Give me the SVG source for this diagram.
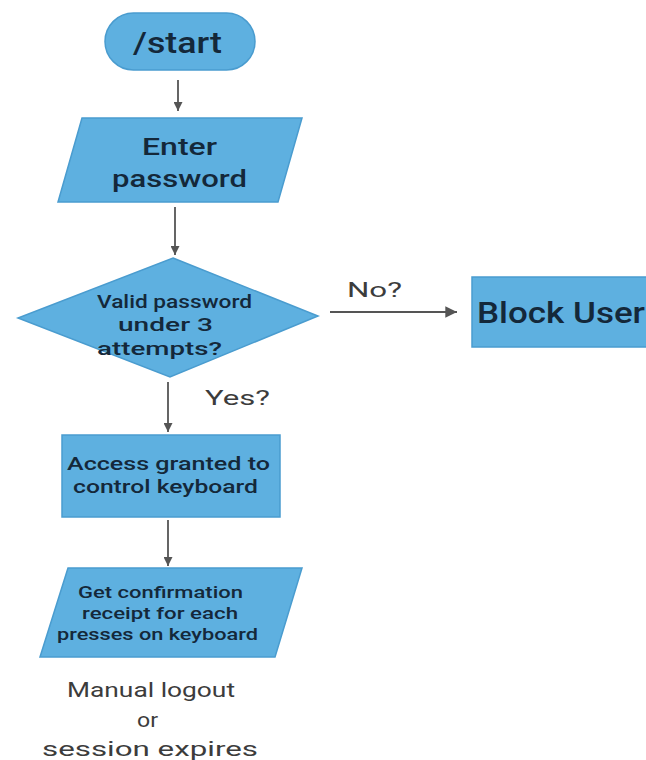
<svg xmlns="http://www.w3.org/2000/svg" width="646" height="760" viewBox="0 0 646 760">
<style>
.node{fill:#5eb0e0;stroke:#4a9ccf;stroke-width:1.5}
.t{font-family:Roboto,"Liberation Sans",sans-serif;font-weight:500;fill:#14283a;text-anchor:middle}
.lbl{font-family:Roboto,"Liberation Sans",sans-serif;font-weight:400;fill:#3c3c3c;text-anchor:middle}
.c{stroke:#555;stroke-width:1.8;fill:none}
</style>
<defs>
<marker id="ah" viewBox="0 0 10 10" refX="10" refY="5" markerWidth="5" markerHeight="5" orient="auto" markerUnits="strokeWidth">
<path d="M0,0 L10,5 L0,10 z" fill="#555"/>
</marker>
<marker id="ahb" viewBox="0 0 10 10" refX="10" refY="5" markerWidth="6.5" markerHeight="6.5" orient="auto" markerUnits="strokeWidth">
<path d="M0,0 L10,5 L0,10 z" fill="#555"/>
</marker>
</defs>
<rect width="646" height="760" fill="#fff"/>
<g id="connectors">
<line class="c" x1="178" y1="80" x2="178" y2="111" marker-end="url(#ah)"/>
<line class="c" x1="175" y1="207" x2="175" y2="255" marker-end="url(#ah)"/>
<line class="c" x1="330" y1="312" x2="457" y2="312" stroke-width="3" marker-end="url(#ahb)"/>
<line class="c" x1="168" y1="382" x2="168" y2="432" marker-end="url(#ah)"/>
<line class="c" x1="168" y1="520" x2="168" y2="566" marker-end="url(#ah)"/>
<text class="lbl" x="374.5" y="297" font-size="21" textLength="55" lengthAdjust="spacingAndGlyphs">No?</text>
<text class="lbl" x="237.5" y="405" font-size="21" textLength="65" lengthAdjust="spacingAndGlyphs">Yes?</text>
</g>
<g id="start">
<rect class="node" x="105" y="13" width="150" height="57" rx="28.5"/>
<text class="t" x="177.5" y="53" font-size="29" font-weight="400" textLength="89" lengthAdjust="spacingAndGlyphs">/start</text>
</g>
<g id="enter-password">
<polygon class="node" points="82,118 302,118 278,202 58,202"/>
<text class="t" x="179.5" y="155" font-size="23" font-weight="400" textLength="75" lengthAdjust="spacingAndGlyphs">Enter</text>
<text class="t" x="179.5" y="187" font-size="23" font-weight="400" textLength="135" lengthAdjust="spacingAndGlyphs">password</text>
</g>
<g id="valid-password">
<polygon class="node" points="173,258 318,316 170,377 18,318"/>
<text class="t" x="174.5" y="308" font-size="19" textLength="155" lengthAdjust="spacingAndGlyphs">Valid password</text>
<text class="t" x="165.5" y="331" font-size="19" textLength="95" lengthAdjust="spacingAndGlyphs">under 3</text>
<text class="t" x="159.5" y="355" font-size="19" textLength="125" lengthAdjust="spacingAndGlyphs">attempts?</text>
</g>
<g id="block-user">
<rect class="node" x="472" y="277" width="180" height="70"/>
<text class="t" x="561" y="323" font-size="30" font-weight="400" textLength="168" lengthAdjust="spacingAndGlyphs">Block User</text>
</g>
<g id="access-granted">
<rect class="node" x="62" y="435" width="218" height="82"/>
<text class="t" x="168.5" y="470" font-size="18" textLength="203" lengthAdjust="spacingAndGlyphs">Access granted to</text>
<text class="t" x="165.5" y="493" font-size="18" textLength="185" lengthAdjust="spacingAndGlyphs">control keyboard</text>
</g>
<g id="confirmation">
<polygon class="node" points="68,568 302,568 275,657 40,657"/>
<text class="t" x="160.5" y="598" font-size="17" textLength="165" lengthAdjust="spacingAndGlyphs">Get confirmation</text>
<text class="t" x="160" y="619" font-size="17" textLength="156" lengthAdjust="spacingAndGlyphs">receipt for each</text>
<text class="t" x="157.5" y="640" font-size="17" textLength="201" lengthAdjust="spacingAndGlyphs">presses on keyboard</text>
</g>
<g id="end-note">
<text class="lbl" x="151" y="697" font-size="21" font-weight="500" textLength="168" lengthAdjust="spacingAndGlyphs">Manual logout</text>
<text class="lbl" x="147.5" y="727" font-size="21" font-weight="500" textLength="21" lengthAdjust="spacingAndGlyphs">or</text>
<text class="lbl" x="150" y="756" font-size="21" font-weight="500" textLength="216" lengthAdjust="spacingAndGlyphs">session expires</text>
</g>
</svg>
